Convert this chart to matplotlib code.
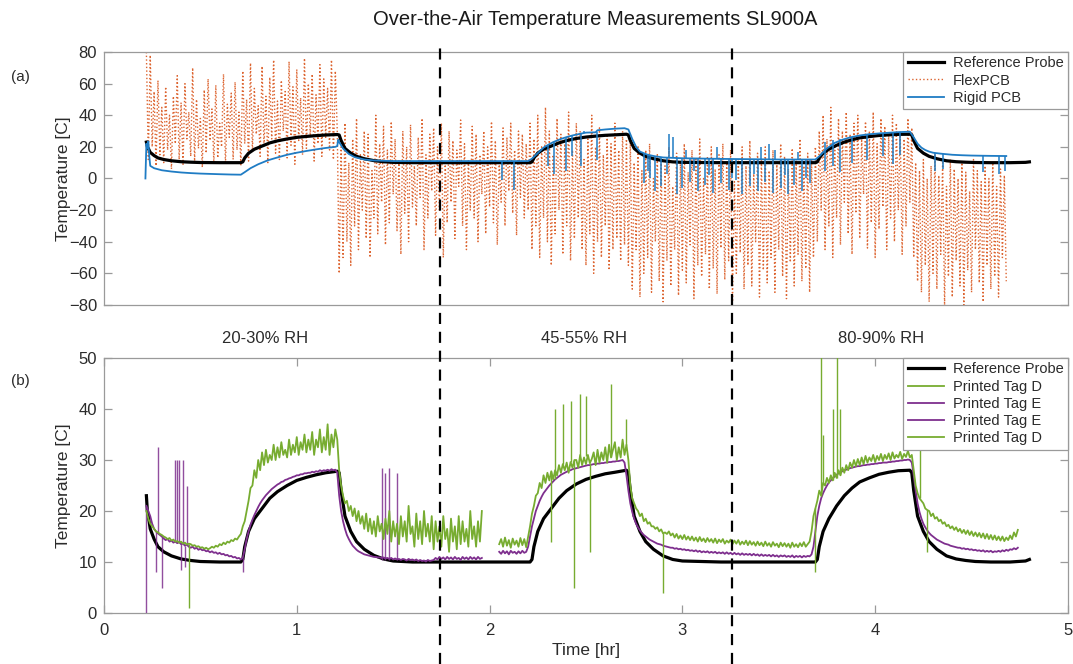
import numpy as np
import matplotlib
matplotlib.use("Agg")
import matplotlib.pyplot as plt
from matplotlib.transforms import blended_transform_factory

plt.rcParams['font.family'] = ['Liberation Sans', 'DejaVu Sans']

# ---------------- data ----------------
title = "Over-the-Air Temperature Measurements SL900A"
rh_labels = ["20-30% RH", "45-55% RH", "80-90% RH"]
rh_label_times = [0.835, 2.49, 4.03]
phase_boundaries = [1.745, 3.26]

# Reference probe (hr, degC)
ref_t = [0.22, 0.225, 0.23, 0.24, 0.26, 0.28, 0.31, 0.35, 0.40, 0.45, 0.50, 0.60, 0.71, 0.72, 0.73, 0.75,
         0.78, 0.82, 0.86, 0.90, 0.95, 1.00, 1.05, 1.10, 1.15, 1.21, 1.22, 1.23, 1.25, 1.28, 1.31, 1.35,
         1.40, 1.45, 1.50, 1.60, 1.80, 2.00, 2.21, 2.22, 2.23, 2.25, 2.28, 2.32, 2.36, 2.40, 2.45, 2.50,
         2.55, 2.60, 2.65, 2.71, 2.72, 2.73, 2.75, 2.78, 2.81, 2.85, 2.90, 2.95, 3.00, 3.20, 3.40, 3.69,
         3.70, 3.71, 3.73, 3.76, 3.80, 3.84, 3.88, 3.92, 3.97, 4.02, 4.07, 4.12, 4.18, 4.19, 4.20, 4.22,
         4.25, 4.28, 4.32, 4.37, 4.42, 4.47, 4.52, 4.60, 4.70, 4.78, 4.80]
ref_v = [23, 20, 19, 16.5, 14.5, 13, 12, 11.2, 10.6, 10.3, 10.1, 10, 10, 10.5, 13, 16,
         18.5, 20.5, 22.5, 23.8, 25, 26, 26.6, 27.1, 27.5, 27.8, 27.5, 24, 19, 16, 14, 12.5,
         11.3, 10.6, 10.2, 10, 10, 10, 10, 10.5, 13, 16, 18.5, 20.5, 22.5, 24, 25.3, 26.2,
         26.8, 27.3, 27.6, 28, 27.5, 24, 19, 16, 14, 12.5, 11.2, 10.5, 10.2, 10, 10, 10,
         10.5, 13, 16, 18.5, 21, 23, 24.5, 25.7, 26.5, 27.2, 27.6, 27.9, 28, 27.5, 24, 19,
         16, 14, 12.5, 11.2, 10.6, 10.3, 10.1, 10, 10, 10.2, 10.5]

# FlexPCB (dotted, very noisy), segments between set-point changes
flex_seg_bounds = [(0.22, 1.21), (1.22, 2.19), (2.20, 2.71), (2.72, 3.69), (3.70, 4.19), (4.20, 4.68)]
flex_seg1 = [80, 12, 78, 20, 55, 8, 62, 15, 45, 10,
             58, 18, 40, 6, 52, 22, 65, 12, 48, 9,
             60, 25, 42, 14, 70, 11, 50, 19, 38, 7,
             56, 16, 63, 24, 44, 10, 59, 13, 35, 20,
             66, 9, 47, 26, 54, 12, 61, 18, 42, 8,
             68, 22, 50, 11, 73, 17, 57, 28, 46, 14,
             71, 20, 52, 10, 64, 25, 75, 16, 49, 12,
             62, 30, 55, 13, 74, 21, 58, 9, 69, 24,
             51, 15, 76, 19, 60, 27, 66, 11, 53, 22,
             72, 14, 63, 26, 57, 18, 75, 12, 68, 30]
flex_seg2 = [-60, 20, -50, 35, -40, 10, -55, 25, -30, 38,
             -45, 15, -20, 30, -38, 28, -50, 5, -25, 40,
             -35, 22, -15, 33, -42, 18, -28, 36, -10, 25,
             -33, 12, -48, 30, -22, 20, -40, 34, -18, 8,
             -30, 26, -12, 38, -45, 15, -25, 28, -8, 32,
             -36, 20, -20, 35, -50, 10, -28, 30, -15, 24,
             -38, 18, -5, 37, -30, 22, -45, 12, -20, 33,
             -25, 28, -40, 15, -10, 30, -35, 20, -18, 36,
             -28, 24, -42, 10, -15, 32, -30, 26, -8, 35,
             -22, 18, -36, 30, -12, 28, -25, 22]
flex_seg3 = [-20, 35, -45, 25, -30, 40, -50, 20, -25, 45,
             -40, 30, -55, 15, -35, 38, -20, 28, -48, 22,
             -30, 42, -52, 18, -38, 35, -25, 30, -45, 12,
             -55, 25, -35, 40, -60, 20, -40, 32, -50, 15,
             -30, 28, -58, 22, -45, 35, -38, 18, -52, 30,
             -42, 25]
flex_seg4 = [-55, 25, -70, 10, -45, 20, -75, 5, -60, 18,
             -50, 22, -72, 0, -40, 15, -65, 12, -78, 8,
             -52, 20, -68, -5, -45, 16, -74, 10, -58, 22,
             -66, 4, -42, 18, -76, 12, -55, 25, -62, 0,
             -48, 14, -70, 20, -57, 6, -73, 15, -44, 22,
             -64, 10, -52, 18, -78, -2, -60, 12, -47, 20,
             -70, 8, -55, 24, -68, 3, -40, 16, -75, 12,
             -58, 20, -66, 5, -50, 18, -72, 10, -45, 22,
             -62, 14, -76, 6, -53, 19, -68, 11, -48, 25,
             -65, 8, -57, 16, -72, 12, -50, 20]
flex_seg5 = [-40, 30, -20, 40, -45, 25, -30, 45, -50, 20,
             -25, 38, -42, 30, -15, 42, -35, 28, -48, 35,
             -22, 40, -38, 25, -10, 36, -44, 30, -28, 42,
             -50, 22, -32, 38, -18, 33, -45, 28, -25, 40,
             -40, 35, -20, 30, -48, 25, -30, 38, -15, 32]
flex_seg6 = [-50, 10, -65, 5, -72, 12, -55, 0, -78, 8,
             -60, 15, -70, 2, -48, 10, -80, -5, -62, 12,
             -75, 6, -52, 0, -68, 10, -80, 4, -58, -8,
             -72, 12, -45, 5, -66, -2, -78, 8, -55, 0,
             -70, 10, -62, -5, -75, 6, -50, 2, -65]

# Rigid PCB: underlying trace ...
rigid_t = [0.215, 0.22, 0.225, 0.23, 0.235, 0.24, 0.26, 0.30, 0.35, 0.40, 0.45, 0.50, 0.55, 0.60, 0.66, 0.71,
           0.73, 0.76, 0.80, 0.85, 0.90, 0.95, 1.00, 1.05, 1.10, 1.15, 1.20, 1.21, 1.215, 1.22, 1.24, 1.27,
           1.30, 1.35, 1.40, 1.50, 1.70, 1.90, 2.20, 2.22, 2.25, 2.28, 2.30, 2.33, 2.37, 2.40, 2.43, 2.46,
           2.50, 2.55, 2.56, 2.60, 2.65, 2.70, 2.72, 2.74, 2.76, 2.78, 2.82, 2.86, 2.90, 3.00, 3.20, 3.50,
           3.69, 3.71, 3.75, 3.79, 3.83, 3.87, 3.92, 3.97, 4.03, 4.08, 4.12, 4.16, 4.18, 4.20, 4.22, 4.24,
           4.26, 4.28, 4.30, 4.34, 4.40, 4.45, 4.50, 4.55, 4.60, 4.68]
rigid_v = [0, 22, 19, 23.5, 14, 8, 6.5, 5.2, 4.4, 3.8, 3.4, 3.1, 2.9, 2.7, 2.5, 2.4,
           4, 6.5, 9, 11.5, 13.3, 15, 16.3, 17.4, 18.4, 19.3, 20, 20.5, 24.5, 23, 19, 15.5,
           13.5, 12, 11.4, 11, 11, 11, 11, 12.5, 16, 19.5, 21, 23, 25, 26.2, 27.2, 28,
           29, 29.2, 30.5, 31, 31.5, 31.8, 31, 25, 20, 17, 15, 14, 13.3, 12.8, 12.4, 12,
           12, 14, 19, 22.5, 24.5, 26, 27.2, 28, 28.6, 29, 29.3, 29.5, 29.6, 26, 22, 19.5,
           18, 17, 16.3, 15.7, 15, 14.7, 14.5, 14.4, 14.3, 14.2]
# ... and its read-out glitches (time, glitch value, trace value)
rigid_spike_t = [2.065, 2.125, 2.305, 2.335, 2.395, 2.425, 2.475, 2.49, 2.555,
                 2.80, 2.82, 2.83, 2.86, 2.89, 2.92, 2.93, 2.95, 2.97, 3.00, 3.02, 3.04, 3.06, 3.08,
                 3.12, 3.14, 3.16, 3.18, 3.20, 3.24, 3.26, 3.28, 3.31, 3.35, 3.37, 3.39, 3.41, 3.43,
                 3.45, 3.47, 3.48, 3.51, 3.53, 3.55, 3.58, 3.60, 3.62, 3.64, 3.66,
                 3.74, 3.78, 3.82, 3.88, 3.96, 4.04, 4.09, 4.13, 4.31, 4.35, 4.56, 4.64, 4.675]
rigid_spike_v = [-1, -7, 8, 3, 5, 14, 8, 30, 12,
                 -3, 5, 0, -8, -5, 3, 28, 26, -10, -6, 18, -2, 5, -8,
                 -4, 2, -9, 20, -3, -7, 0, -1, -10, -5, 3, -8, 20, -2,
                 22, -9, 18, -6, 2, -10, -4, 17, -8, 0, -3,
                 5, 8, 4, 10, 12, 14, 9, 15, 5, 6, 4, 3, 5]
rigid_spike_base = [11, 11, 21.2, 23.2, 26.1, 27.1, 28.3, 28.6, 29.3,
                    16, 15, 14.8, 14, 13.5, 13.2, 13.1, 13, 12.9, 12.8, 12.8, 12.7, 12.7, 12.6,
                    12.6, 12.5, 12.5, 12.5, 12.4, 12.4, 12.4, 12.3, 12.3, 12.2, 12.2, 12.2, 12.1, 12.1,
                    12.1, 12.1, 12.1, 12, 12, 12, 12, 12, 12, 12, 12,
                    23, 24.2, 25, 26.3, 27.8, 28.7, 29.1, 29.4, 16.1, 15.8, 14.4, 14.3, 14.2]

# Printed Tag D, first recording (0.22-1.96 hr, 0.01 hr steps)
tagD1_span = (0.22, 1.96)
tagD1_v = [20, 18.5, 17.5, 17, 16.5, 16, 15.8, 15.5, 15.3,
           15, 14.8, 14.5, 14.7, 14.2, 14.4, 14, 14.1, 13.8, 14,
           13.6, 13.8, 13.4, 13.6, 13.5, 13.2, 13.3, 13, 13.1, 12.8,
           12.9, 12.6, 12.8, 12.5, 12.7, 13, 12.8, 13.2, 13, 13.5,
           13.3, 13.8, 13.5, 14, 13.8, 14.3, 14.1, 14.6, 14.4, 15,
           15.5, 17, 18, 20, 22, 24.5, 25, 28, 26.5, 30,
           28, 31.5, 29, 32, 29.5, 31, 30, 33, 30, 32.5,
           30.5, 33.5, 31, 32, 30.5, 34, 31, 33, 31.5, 34.5,
           31, 33.5, 32, 35, 31.5, 34, 32, 35.5, 31, 34,
           32.5, 36, 31.5, 34.5, 32, 37, 31, 35, 32.5, 36,
           34, 28, 25, 23, 21.5, 22, 20, 21, 19, 20.5,
           18, 20, 17.5, 19, 16.5, 19.5, 16, 18.5, 15.5, 18,
           15, 19, 16, 17.5, 14.5, 18.5, 15.5, 20, 14, 18,
           15, 17.5, 13.5, 19, 15, 18, 14, 21, 15.5, 17,
           13, 19.5, 14.5, 18, 13.5, 20, 15, 17.5, 14, 19,
           12.5, 18, 14, 17, 13, 19, 14.5, 16.5, 12, 18.5,
           14, 17, 12.5, 19, 13.5, 18, 14, 16.5, 13, 20,
           14.5, 17, 13, 18, 14, 20]
tagD1_spike_t = [0.44]
tagD1_spike_v = [1]
tagD1_spike_base = [13.6]

# Printed Tag E, first recording (0.22-1.96 hr)
tagE1_span = (0.22, 1.96)
tagE1_v = [21, 20, 19, 17.5, 16.5, 16, 15.6, 15.3, 15,
           14.6, 14.3, 14.5, 14, 14.2, 13.8, 14, 13.7, 13.9, 13.5,
           13.6, 13.2, 13.4, 13, 12.8, 13, 12.6, 12.8, 12.4, 12.6,
           12.3, 12.4, 12.1, 12.2, 11.9, 12.1, 11.8, 11.9, 11.6, 11.8,
           11.5, 11.6, 11.3, 11.4, 11.1, 11.2, 10.9, 11, 10.7, 10.8,
           10.5, 10.8, 12.5, 14.5, 16, 17.3, 18.3, 19.2, 20, 20.8,
           21.5, 22.1, 22.6, 23.1, 23.5, 23.9, 24.3, 24.6, 24.9, 25.2,
           25.4, 25.7, 25.8, 26.1, 26.2, 26.4, 26.5, 26.7, 26.8, 27,
           27, 27.2, 27.2, 27.4, 27.4, 27.5, 27.5, 27.7, 27.6, 27.8,
           27.7, 28, 27.8, 28, 27.9, 28.1, 27.9, 28.2, 28, 28.1,
           27.5, 23, 20, 18, 16.5, 15.3, 14.5, 13.8, 13.2, 12.8,
           12.4, 12.1, 11.9, 11.7, 11.5, 11.4, 11.3, 11.2, 11.1, 11,
           11, 10.9, 10.9, 10.8, 10.9, 10.7, 10.8, 10.6, 10.8, 10.5,
           10.7, 10.5, 10.6, 10.4, 10.6, 10.5, 10.3, 10.6, 10.4, 10.5,
           10.3, 10.5, 10.2, 10.4, 10.2, 10.3, 10.1, 10.4, 10.2, 10.3,
           10.4, 10.8, 10.5, 11, 10.6, 10.9, 10.5, 11, 10.6, 10.9,
           10.5, 11, 10.6, 10.8, 10.4, 11, 10.6, 10.9, 10.5, 11,
           10.6, 10.9, 10.5, 11, 10.6, 10.8]
tagE1_spike_t = [0.22, 0.27, 0.28, 0.30, 0.37, 0.38, 0.39, 0.40, 0.41, 0.42, 0.43, 0.72,
                 1.44, 1.46, 1.48, 1.52]
tagE1_spike_v = [0, 8, 32.5, 5, 30, 30, 30, 8.5, 30, 9, 25, 8, 28.5, 27.5, 28.5, 27.5]
tagE1_spike_base = [21, 16, 15.6, 15, 14, 13.7, 13.9, 13.5, 13.6, 13.2, 13.4, 10.8,
                    10.3, 10.3, 10.3, 10.3]

# Printed Tag E, second recording (2.05-4.74 hr)
tagE2_span = (2.05, 4.74)
tagE2_v = [12, 11.6, 12.2, 11.7, 12.1, 11.5, 12.2, 11.8, 12, 11.6,
           12.1, 11.7, 12.2, 11.8, 12, 13, 15, 17, 18.5, 20,
           21, 22, 22.8, 23.5, 24, 24.5, 25, 25.4, 25.8, 26.2,
           26.5, 26.8, 27.1, 27.3, 27.5, 27.7, 27.9, 28, 28.2, 28.3,
           28.4, 28.5, 28.6, 28.7, 28.8, 28.9, 29, 29, 29.1, 29.2,
           29.2, 29.3, 29.3, 29.4, 29.4, 29.5, 29.5, 29.6, 29.6, 29.7,
           29.7, 29.8, 29.8, 29.9, 30, 29.5, 27, 24, 21.5, 19.8,
           18.5, 17.5, 16.8, 16.2, 15.7, 15.3, 15, 14.7, 14.4, 14.2,
           14, 13.8, 13.6, 13.5, 13.4, 13.2, 13.1, 13, 12.9, 12.8,
           12.8, 12.6, 12.7, 12.5, 12.6, 12.4, 12.5, 12.3, 12.4, 12.2,
           12.3, 12.1, 12.3, 12, 12.2, 11.9, 12.1, 11.9, 12.1, 11.8,
           12, 11.8, 12, 11.7, 11.9, 11.7, 11.9, 11.6, 11.9, 11.6,
           11.8, 11.5, 11.8, 11.5, 11.7, 11.4, 11.7, 11.4, 11.6, 11.4,
           11.6, 11.3, 11.6, 11.3, 11.5, 11.2, 11.5, 11.2, 11.4, 11.2,
           11.4, 11.1, 11.4, 11.1, 11.3, 11, 11.3, 11.1, 11.3, 11,
           11.2, 11, 11.3, 10.9, 11.2, 11, 11.2, 10.9, 11.2, 11,
           11.2, 11.1, 11.5, 13, 16, 19, 21, 22.5, 23.5, 24.3,
           25, 25.6, 26, 26.4, 26.8, 27.1, 27.4, 27.6, 27.8, 28,
           28.1, 28.3, 28.4, 28.5, 28.6, 28.7, 28.8, 28.8, 28.9, 29,
           29, 29.1, 29.1, 29.2, 29.2, 29.3, 29.3, 29.4, 29.4, 29.5,
           29.5, 29.5, 29.6, 29.6, 29.7, 29.7, 29.8, 29.8, 29.9, 29.9,
           30, 30, 30.1, 30, 29.5, 27, 24, 21.5, 19.8, 18.5,
           17.5, 16.8, 16.2, 15.7, 15.3, 15, 14.7, 14.4, 14.2, 14,
           13.8, 13.6, 13.5, 13.4, 13.2, 13.1, 13, 12.9, 12.8, 12.8,
           12.6, 12.7, 12.5, 12.6, 12.4, 12.5, 12.3, 12.4, 12.2, 12.3,
           12.1, 12.3, 12, 12.2, 12, 12.2, 11.9, 12.1, 12, 12.2,
           12, 12.3, 12.1, 12.4, 12.2, 12.5, 12.4, 12.7, 12.5, 12.8]

# Printed Tag D, second recording (2.05-4.74 hr)
tagD2_span = (2.05, 4.74)
tagD2_v = [13.5, 14.5, 13, 14.8, 13.2, 14.3, 12.8, 14.6, 13.4, 14.2,
           13, 14.7, 13.3, 14.5, 12.9, 15, 17, 19.5, 21, 23,
           23.5, 25.5, 24.5, 27, 25.5, 27.5, 26, 27.8, 26.2, 28,
           27, 29, 27.5, 29.2, 28, 29.5, 27.5, 29.6, 28.5, 30,
           30, 28.5, 31, 29, 30.5, 29.2, 31, 29.4, 30.2, 31.5,
           29, 32, 29.5, 31.5, 30, 32.5, 29.5, 33, 30.5, 32,
           33.5, 30, 32.5, 30.5, 34, 31, 33, 30, 25, 22.5,
           21.5, 20.5, 20, 19, 19.5, 18, 18.5, 17.5, 17.8, 17,
           17, 16.5, 16.8, 16, 16.4, 15.6, 15.8, 15.5, 16, 15.2,
           15.6, 14.8, 15.5, 14.6, 15.2, 14.5, 15.3, 14.4, 15, 14.3,
           15, 14.2, 14.8, 14, 14.9, 14.1, 14.6, 13.9, 14.7, 14,
           14.5, 13.8, 14.6, 13.7, 14.4, 13.9, 14.5, 13.6, 14.2, 13.8,
           14.4, 13.5, 14.2, 13.6, 14.3, 13.4, 14, 13.5, 14.2, 13.3,
           14.1, 13.4, 13.9, 13.2, 14, 13.3, 13.8, 13.1, 14, 13.2,
           13.7, 13, 13.9, 13.2, 13.6, 12.9, 13.8, 13.1, 13.7, 13,
           13.6, 12.8, 13.8, 13, 13.5, 12.9, 13.7, 13.1, 13.9, 13,
           13.5, 14, 16, 19, 20.5, 22, 24, 23, 25.5, 25,
           26.5, 25.5, 27, 26, 27.5, 26.5, 28, 27, 28.5, 27.5,
           29, 28, 29.5, 28.5, 30, 28.8, 30.2, 29, 30.5, 29.2,
           30.8, 29.5, 30.5, 29.8, 31, 29.6, 30.8, 30, 31.2, 29.8,
           31, 30.2, 31.3, 30, 31.5, 30.3, 31, 30.5, 31.6, 30.2,
           31.2, 30.6, 31.8, 30.5, 31, 28, 25, 23.5, 22.5, 22,
           21.5, 20.5, 20.2, 20, 19, 19.5, 18.5, 18.8, 18, 18.3,
           17.5, 17.8, 17, 17.3, 16.6, 17, 16.3, 16.8, 16, 16.5,
           15.7, 16.3, 15.5, 16.2, 15.3, 16, 15.1, 15.8, 15, 15.7,
           14.8, 15.6, 14.6, 15.5, 14.5, 15.3, 14.4, 15.2, 14.3, 15,
           14.2, 15, 14.1, 14.8, 14.3, 15.2, 14.5, 15.8, 15, 16.3]
tagD2_spike_t = [2.32, 2.34, 2.38, 2.42, 2.44, 2.47, 2.50, 2.52, 2.63, 2.71, 2.90,
                 3.69, 3.72, 3.73, 3.78, 3.80, 3.82, 4.23, 4.27]
tagD2_spike_v = [14, 40, 41, 41.5, 5, 43, 42.5, 12, 45, 38, 4,
                 8, 52, 35, 40, 52, 40, 35, 12]
tagD2_spike_base = [27.8, 26.2, 29.2, 29.6, 30, 31, 30.8, 29.4, 30.5, 33, 15.6,
                    20.5, 23, 25.5, 26, 26.5, 27, 22.5, 20.2]

# ---------------- styling ----------------
C_REF = 'black'
C_FLEX = '#D95319'
C_RIGID = '#1F7CC4'
C_D = '#77AC30'
C_E = '#7E2F8E'
SPINE = '#9a9a9a'
TXT = '#2b2b2b'

fig = plt.figure(figsize=(10.73, 6.64), dpi=100)
ax1 = fig.add_axes([0.0969, 0.5407, 0.8984, 0.381])
ax2 = fig.add_axes([0.0969, 0.0768, 0.8984, 0.384])

# ---- top panel ----
flex_segs = [flex_seg1, flex_seg2, flex_seg3, flex_seg4, flex_seg5, flex_seg6]
flex_t = np.concatenate([np.linspace(a, b, len(s)) for (a, b), s in zip(flex_seg_bounds, flex_segs)])
flex_v = np.concatenate([np.asarray(s, float) for s in flex_segs])

ax1.plot(ref_t, ref_v, color=C_REF, lw=2.3, label='Reference Probe', zorder=3)
ax1.plot(flex_t, flex_v, color=C_FLEX, lw=1.0, ls=':', alpha=0.9, label='FlexPCB', zorder=2)
ax1.plot(rigid_t, rigid_v, color=C_RIGID, lw=1.3, label='Rigid PCB', zorder=4)
ax1.vlines(rigid_spike_t, rigid_spike_base, rigid_spike_v, color=C_RIGID, lw=1.1, zorder=4)
ax1.set_xlim(0, 5)
ax1.set_ylim(-80, 80)
ax1.set_yticks(np.arange(-80, 81, 20))
ax1.set_xticks([])
ax1.set_ylabel('Temperature [C]', fontsize=12.5, color=TXT)
ax1.yaxis.set_label_coords(-0.034, 0.5)

# ---- bottom panel ----
tD1 = np.linspace(tagD1_span[0], tagD1_span[1], len(tagD1_v))
tE1 = np.linspace(tagE1_span[0], tagE1_span[1], len(tagE1_v))
tE2 = np.linspace(tagE2_span[0], tagE2_span[1], len(tagE2_v))
tD2 = np.linspace(tagD2_span[0], tagD2_span[1], len(tagD2_v))

ax2.plot(ref_t, ref_v, color=C_REF, lw=2.3, label='Reference Probe', zorder=2)
ax2.plot(tD1, tagD1_v, color=C_D, lw=1.3, label='Printed Tag D', zorder=4)
ax2.plot(tE1, tagE1_v, color=C_E, lw=1.3, label='Printed Tag E', zorder=3)
ax2.plot(tE2, tagE2_v, color=C_E, lw=1.3, label='Printed Tag E', zorder=3)
ax2.plot(tD2, tagD2_v, color=C_D, lw=1.3, label='Printed Tag D', zorder=4)
ax2.vlines(tagD1_spike_t, tagD1_spike_base, tagD1_spike_v, color=C_D, lw=1.0, zorder=4)
ax2.vlines(tagE1_spike_t, tagE1_spike_base, tagE1_spike_v, color=C_E, lw=1.0, alpha=0.85, zorder=3)
ax2.vlines(tagD2_spike_t, tagD2_spike_base, tagD2_spike_v, color=C_D, lw=1.0, zorder=4)
ax2.set_xlim(0, 5)
ax2.set_ylim(0, 50)
ax2.set_xticks(range(0, 6))
ax2.set_yticks(range(0, 51, 10))
ax2.set_ylabel('Temperature [C]', fontsize=12.5, color=TXT)
ax2.yaxis.set_label_coords(-0.034, 0.5)
ax2.set_xlabel('Time [hr]', fontsize=12.5, color=TXT, labelpad=4)

for ax in (ax1, ax2):
    for s in ax.spines.values():
        s.set_color(SPINE)
        s.set_linewidth(0.9)
    ax.tick_params(direction='in', length=6, width=0.9, color=SPINE, labelcolor=TXT,
                   labelsize=12, right=True, top=(ax is ax2), pad=5)
    leg = ax.legend(loc='upper right', borderaxespad=0, fancybox=False, framealpha=1,
                    edgecolor=SPINE, fontsize=10.5, handlelength=2.5, labelspacing=0.22,
                    borderpad=0.3, handletextpad=0.6)
    leg.get_frame().set_linewidth(0.9)
    for t in leg.get_texts():
        t.set_color(TXT)
    leg.set_zorder(10)
ax2.tick_params(axis='x', pad=7)

# phase boundaries spanning both panels
tr = blended_transform_factory(ax2.transData, fig.transFigure)
for xb in phase_boundaries:
    ax2.plot([xb, xb], [0.0, 0.928], transform=tr, color='black', lw=1.6,
             ls=(0, (5, 3.5)), clip_on=False, zorder=9)

# RH labels between panels
trl = blended_transform_factory(ax1.transData, fig.transFigure)
for lab, xt in zip(rh_labels, rh_label_times):
    fig.text(xt, 0.490, lab, transform=trl, ha='center', va='center', fontsize=12, color=TXT)

fig.text(0.5545, 0.971, title, ha='center', va='center', fontsize=14.5, color='#1a1a1a')
fig.text(0.0186, 0.884, '(a)', ha='center', va='center', fontsize=11, color=TXT)
fig.text(0.0186, 0.426, '(b)', ha='center', va='center', fontsize=11, color=TXT)

fig.savefig('out.png', dpi=100)
